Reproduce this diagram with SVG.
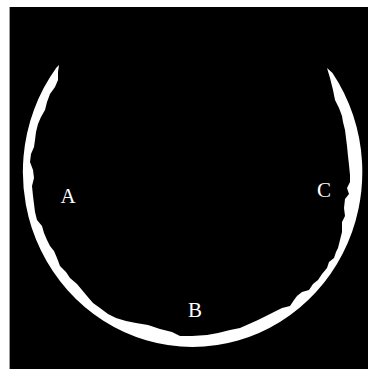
<svg xmlns="http://www.w3.org/2000/svg" width="368" height="369" viewBox="0 0 368 369">
<style>
.lbl{font-family:"Liberation Serif","Times New Roman",serif;font-size:21px;fill:#ffffff;text-anchor:middle}
</style>
<rect x="0" y="0" width="368" height="369" fill="#ffffff"/>
<rect x="10" y="7" width="358" height="362" fill="#000000"/>
<line x1="9.5" y1="7" x2="9.5" y2="369" stroke="#9a9a9a" stroke-width="1"/>
<path id="ring" fill="#ffffff" d="M59,65 L56.5,67.5 A170,175 0 0 0 192.5,347 A170,175 0 0 0 332.5,73 L327,68 L330,78 L333,90 L335,100 L339,108 L342,116 L343,122 L345,130 L346,138 L347,146 L348,156 L349,165 L350,175 L350,182 L347,188 L349,194 L345,199 L344,208 L345,216 L342,222 L342,232 L340,240 L338,248 L336,252 L334,258 L329,262 L327,268 L322,274 L318,280 L313,284 L309,290 L302,292 L297,296 L294,300 L290,306 L282,308 L274,312 L266,316 L258,320 L249,324 L240,328 L230,330 L218,333 L207,335 L192,336 L180,336 L172,332 L160,329 L148,325 L136,323 L126,321 L116,318 L108,314 L100,308 L93,303 L87,296 L82,290 L77,284 L70,278 L66,272 L60,266 L57,258 L54,251 L50,246 L47,240 L44,233 L42,226 L37,220 L35,212 L34,204 L33,196 L32,186 L34,178 L33,170 L30,162 L31,154 L34,147 L35,140 L36,132 L38,124 L41,117 L45,110 L47,102 L50,94 L55,87 L58,80 L58,72 Z"/>
<g id="A"><text class="lbl" x="68" y="203">A</text></g>
<g id="B"><text class="lbl" x="195" y="317">B</text></g>
<g id="C"><text class="lbl" x="324" y="197">C</text></g>
</svg>
